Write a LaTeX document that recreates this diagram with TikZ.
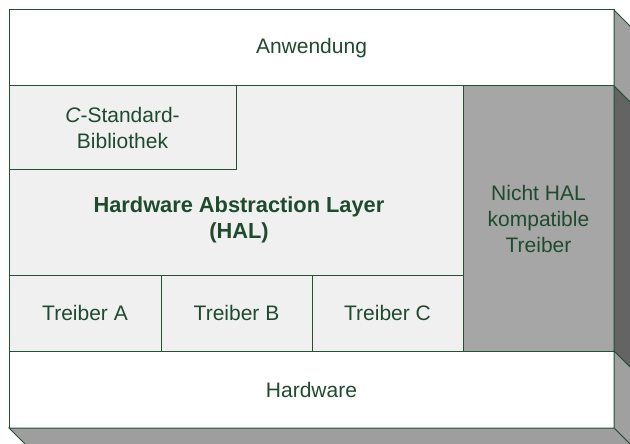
\documentclass[tikz,border=0pt]{standalone}
\usepackage{fontspec}
\setmainfont{Liberation Sans}
\usetikzlibrary{calc}

\definecolor{edge}{RGB}{38,80,52}
\definecolor{ink}{RGB}{30,75,46}
\definecolor{layerlight}{RGB}{240,240,240}
\definecolor{layergray}{RGB}{166,166,166}
\definecolor{sidelight}{RGB}{160,160,160}
\definecolor{sidedark}{RGB}{100,100,100}
\definecolor{bottomface}{RGB}{158,158,158}

\newcommand{\lab}{\fontsize{21}{26}\selectfont}
\newcommand{\labbold}{\fontsize{21.8}{26}\selectfont\bfseries}

\tikzset{
  layer/.style={draw=edge, rectangle, inner sep=0pt, outer sep=0pt,
    text=ink, align=center, font=\lab},
  whitelayer/.style={layer, fill=white},
  lightlayer/.style={layer, fill=layerlight},
  graylayer/.style={layer, fill=layergray},
  caption/.style={text=ink, align=center, font=\labbold, inner sep=0pt},
  face/.style={draw=edge, line join=miter}
}

\begin{document}
\begin{tikzpicture}[x=1pt, y=-1pt, line width=1pt]
\useasboundingbox (0,0) rectangle (630,444);

% layers of the stack
\node[whitelayer, minimum width=605pt, minimum height=76pt] (app) at (311.5,48) {Anwendung};
\node[lightlayer, minimum width=454pt, minimum height=189pt] (hal) at (236,180.5) {};
\node[lightlayer, minimum width=227pt, minimum height=83pt] (clib) at (122.5,127.5)
  {\textit{C}-Standard-\\Bibliothek};
\node[caption] (haltext) at (239,220) {Hardware Abstraction Layer\\(HAL)};
\node[graylayer, minimum width=151pt, minimum height=265pt] (nonhal) at (538.5,218.5)
  {Nicht HAL\\kompatible\\Treiber};
\node[lightlayer, minimum width=152pt, minimum height=76pt] (drva) at (85,313) {Treiber A};
\node[lightlayer, minimum width=151pt, minimum height=76pt] (drvb) at (236.5,313) {Treiber B};
\node[lightlayer, minimum width=151pt, minimum height=76pt] (drvc) at (387.5,313) {Treiber C};
\node[whitelayer, minimum width=605pt, minimum height=77pt] (hw) at (311.5,389.5) {Hardware};

% extruded side and bottom faces
\filldraw[face, fill=sidelight] (app.north east) -- ++(17,17)
  -- ($(app.south east)+(17,17)$) -- (app.south east) -- cycle;
\filldraw[face, fill=sidedark] (nonhal.north east) -- ++(17,17)
  -- ($(nonhal.south east)+(17,17)$) -- (nonhal.south east) -- cycle;
\filldraw[face, fill=sidelight] (hw.north east) -- ++(17,17)
  -- ($(hw.south east)+(17,17)$) -- (hw.south east) -- cycle;
\filldraw[face, fill=bottomface] (hw.south west) -- ++(17,17)
  -- ($(hw.south east)+(17,17)$) -- (hw.south east) -- cycle;
\end{tikzpicture}
\end{document}
